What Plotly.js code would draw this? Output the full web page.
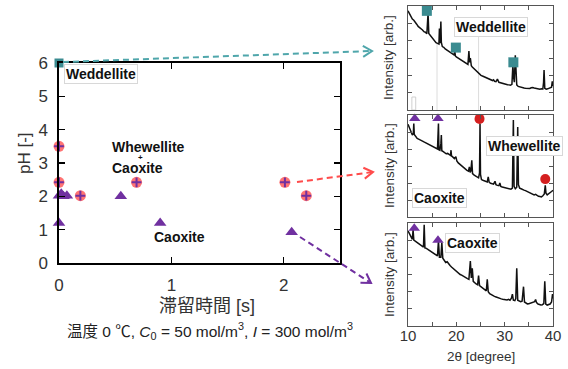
<!DOCTYPE html>
<html><head><meta charset="utf-8">
<script src="https://cdn.plot.ly/plotly-3.0.1.min.js"></script>
<style>html,body{margin:0;padding:0;background:#fff;} #chart{width:568px;height:369px;}</style>
</head><body><div id="chart"></div>
<script>
// ---- main chart data: residence time [s] vs pH ----
const weddelliteTime = [0];
const weddellitePH = [6];
const whewelliteTime = [0, 0, 0.19, 0.69, 2.01, 2.2];
const whewellitePH = [3.5, 2.42, 2.02, 2.42, 2.42, 2.02];
const caoxiteTime = [0, 0.02, 0.04, 0.07, 0.55, 0, 0.9, 2.07];
const caoxitePH = [2.02, 2.08, 2.0, 2.02, 2.0, 1.2, 1.2, 0.92];
const mainXTicks = [0, 1, 2];
const mainYTicks = [0, 1, 2, 3, 4, 5, 6];

// ---- XRD panels: [2theta, intensity (arb.)] ----
const xrdTicks = [10, 15, 20, 25, 30, 35, 40];
const xrdTickText = ['10', '', '20', '', '30', '', '40'];
const xrdYTicks = [1, 2, 3, 4, 5];

const xrdWeddellite = [
 [10.0,5.72],[10.3,5.55],[10.6,5.42],[10.9,5.25],[11.2,5.18],[11.5,5.02],[11.8,4.95],[12.1,4.82],[12.4,4.76],[12.7,4.66],
 [13.0,4.62],[13.3,4.52],[13.6,4.49],[13.9,4.40],[14.05,5.1],[14.15,5.6],[14.3,4.42],[14.6,4.30],[14.9,4.18],[15.2,4.05],
 [15.5,3.98],[15.8,3.88],[16.1,3.84],[16.4,3.80],[16.5,4.7],[16.6,3.85],[16.7,4.3],[16.8,5.1],[16.9,3.9],[17.1,3.66],
 [17.4,3.62],[17.7,3.52],[18.0,3.46],[18.3,3.43],[18.6,3.35],[18.9,3.30],[19.2,3.24],[19.5,3.18],[19.7,3.35],[19.8,3.12],
 [20.0,3.06],[20.3,3.00],[20.6,2.95],[20.9,2.90],[21.2,2.86],[21.5,2.78],[21.8,2.72],[22.1,2.68],[22.4,2.63],[22.6,3.4],
 [22.75,2.75],[22.9,3.0],[23.0,2.65],[23.1,2.55],[23.3,2.48],[23.6,2.40],[23.9,2.30],[24.2,2.20],[24.5,2.12],[24.8,2.05],
 [25.1,2.00],[25.4,1.96],[25.7,1.92],[26.0,1.88],[26.3,1.84],[26.6,1.80],[26.9,1.76],[27.2,1.72],[27.5,1.70],[27.7,1.74],
 [27.9,1.66],[28.2,1.64],[28.5,1.78],[28.8,1.60],[29.1,1.57],[29.4,1.55],[29.7,1.52],[30.0,1.50],[30.3,1.48],[30.6,1.46],
 [30.9,1.45],[31.2,1.43],[31.5,1.48],[31.7,2.6],[31.85,1.9],[32.0,1.6],[32.2,3.15],[32.35,2.2],[32.5,1.45],[32.8,1.36],
 [33.1,1.33],[33.4,1.32],[33.7,1.29],[34.0,1.27],[34.3,1.26],[34.6,1.25],[34.9,1.27],[35.2,1.24],[35.5,1.28],[35.8,1.30],
 [36.1,1.27],[36.4,1.25],[36.7,1.22],[37.0,1.24],[37.3,1.20],[37.6,1.22],[37.9,1.21],[38.05,1.6],[38.15,2.3],[38.3,1.25],
 [38.6,1.20],[38.9,1.22],[39.2,1.25],[39.5,1.27],[39.7,1.32],[39.85,1.65],[40.0,1.38]
];
const xrdWhewellite = [
 [10.0,5.45],[10.3,5.2],[10.6,5.0],[10.9,4.82],[11.1,4.9],[11.2,5.5],[11.3,4.85],[11.6,4.72],[11.9,4.62],[12.2,4.58],
 [12.5,4.52],[12.8,4.48],[13.1,4.45],[13.4,4.40],[13.7,4.36],[14.0,4.30],[14.3,4.26],[14.6,4.22],[14.9,4.18],[15.2,4.14],
 [15.5,4.10],[15.8,4.05],[16.1,4.0],[16.3,5.5],[16.4,3.95],[16.6,3.92],[16.8,4.3],[16.9,4.82],[17.0,3.9],[17.3,3.85],
 [17.6,3.80],[17.9,3.72],[18.2,3.74],[18.5,3.66],[18.8,3.62],[18.9,3.93],[19.0,3.6],[19.3,3.52],[19.6,3.44],[19.9,3.55],
 [20.1,3.30],[20.4,3.18],[20.7,3.10],[21.0,3.04],[21.3,2.98],[21.6,2.88],[21.9,2.78],[22.2,2.74],[22.5,2.70],[22.7,2.95],
 [22.85,2.62],[23.0,2.70],[23.2,3.34],[23.35,2.55],[23.7,2.46],[24.0,2.40],[24.3,2.35],[24.6,2.30],[24.8,2.60],[24.9,5.5],
 [25.0,2.5],[25.2,2.20],[25.5,2.16],[25.8,2.12],[26.1,2.10],[26.4,2.06],[26.6,2.36],[26.8,2.04],[27.1,1.98],[27.4,1.96],
 [27.7,1.93],[28.0,2.10],[28.2,1.90],[28.5,1.86],[28.8,1.84],[29.0,2.0],[29.2,1.80],[29.5,1.76],[29.8,1.74],[30.1,1.72],
 [30.4,1.69],[30.7,1.67],[31.0,1.66],[31.3,1.64],[31.6,1.70],[31.8,5.7],[31.95,1.8],[32.2,1.66],[32.5,1.75],[32.7,5.3],
 [32.85,1.9],[33.1,1.70],[33.4,1.66],[33.7,1.64],[34.0,1.58],[34.3,1.55],[34.6,1.50],[34.9,1.46],[35.2,1.42],[35.5,1.38],
 [35.8,1.35],[36.1,1.30],[36.4,1.33],[36.7,1.26],[37.0,1.22],[37.3,1.20],[37.6,1.18],[37.9,1.25],[38.2,1.35],[38.4,1.87],
 [38.55,1.4],[38.8,1.30],[39.1,1.35],[39.4,1.42],[39.7,1.50],[40.0,1.57]
];
const xrdCaoxite = [
 [10.0,5.55],[10.3,5.35],[10.6,5.2],[10.9,5.05],[11.05,5.6],[11.2,5.0],[11.5,4.95],[11.8,4.88],[12.1,4.80],[12.4,4.75],
 [12.7,4.68],[13.0,4.62],[13.2,4.6],[13.35,5.9],[13.5,4.55],[13.8,4.52],[14.1,4.46],[14.4,4.38],[14.7,4.32],[15.0,4.28],
 [15.3,4.22],[15.6,4.16],[15.9,4.12],[16.1,4.08],[16.3,4.97],[16.5,4.0],[16.8,4.0],[17.0,4.86],[17.2,3.95],[17.5,3.85],
 [17.8,3.70],[18.1,3.74],[18.4,3.6],[18.7,3.52],[19.0,3.44],[19.3,3.36],[19.6,3.28],[19.9,3.20],[20.2,3.12],[20.5,3.06],
 [20.8,3.00],[21.1,2.96],[21.4,2.90],[21.7,2.85],[22.0,2.80],[22.3,2.76],[22.6,2.72],[22.9,3.79],[23.1,2.8],[23.3,3.36],
 [23.5,2.6],[23.8,2.5],[24.1,2.45],[24.4,2.40],[24.6,2.94],[24.8,2.35],[25.1,2.28],[25.4,2.22],[25.7,2.15],[26.0,2.10],
 [26.2,2.05],[26.4,2.72],[26.6,2.0],[26.9,1.88],[27.2,1.82],[27.5,1.78],[27.8,1.74],[28.1,1.70],[28.4,1.66],[28.7,1.63],
 [29.0,1.60],[29.3,1.58],[29.6,1.56],[29.9,1.54],[30.2,1.53],[30.5,1.52],[30.8,1.55],[31.1,1.50],[31.4,1.62],[31.6,1.86],
 [31.8,1.5],[32.1,1.48],[32.3,1.6],[32.5,3.36],[32.7,1.5],[33.0,1.45],[33.3,1.42],[33.6,1.45],[33.9,2.29],[34.1,1.4],
 [34.4,1.33],[34.7,1.29],[35.0,1.30],[35.3,1.32],[35.6,1.35],[35.9,1.38],[36.2,1.42],[36.4,1.54],[36.6,1.36],[36.9,1.28],
 [37.2,1.24],[37.5,1.22],[37.8,1.24],[38.1,1.3],[38.3,2.61],[38.5,1.28],[38.8,1.22],[39.1,1.24],[39.4,1.28],[39.7,1.40],
 [39.9,1.86],[40.0,1.6]
];
// peak markers on XRD panels
const weddPeak2T = [13.9, 19.9, 31.8];
const weddPeakI = [5.72, 3.6, 2.75];
const midCaoPeak2T = [11.4, 16.2];
const midCaoPeakI = [5.8, 5.8];
const midWhewPeak2T = [24.8, 38.4];
const midWhewPeakI = [5.77, 2.23];
const botCaoPeak2T = [11.3, 16.2];
const botCaoPeakI = [5.7, 5.0];

// ---- colors / helpers ----
const TEAL = '#3a8b90', SALMON = '#ff7373', PURPLE = '#7030a0', RED = '#d41f1f';
const W = 568, H = 369;
const px = x => x / W, py = y => 1 - y / H;
const FONT = 'Liberation Sans, Arial, Noto Sans CJK JP, sans-serif';

const traces = [
  {x: whewelliteTime, y: whewellitePH, mode: 'markers', type: 'scatter', cliponaxis: false,
   marker: {symbol: 'circle', size: 11, color: SALMON}, xaxis: 'x', yaxis: 'y'},
  {x: whewelliteTime, y: whewellitePH, mode: 'markers', type: 'scatter', cliponaxis: false,
   marker: {symbol: 'cross-thin-open', size: 7, color: PURPLE, line: {color: PURPLE, width: 2}}, xaxis: 'x', yaxis: 'y'},
  {x: caoxiteTime, y: caoxitePH, mode: 'markers', type: 'scatter', cliponaxis: false,
   marker: {symbol: 'triangle-up', size: 11, color: PURPLE}, xaxis: 'x', yaxis: 'y'},
  {x: weddelliteTime, y: weddellitePH, mode: 'markers', type: 'scatter', cliponaxis: false,
   marker: {symbol: 'square', size: 9, color: TEAL}, xaxis: 'x', yaxis: 'y'},
];
function spectrum(data, ax) {
  return {x: data.map(p => p[0]), y: data.map(p => p[1]), mode: 'lines', type: 'scatter',
          line: {color: '#111', width: 1.5}, xaxis: 'x' + ax, yaxis: 'y' + ax};
}
traces.push(spectrum(xrdWeddellite, 2), spectrum(xrdWhewellite, 3), spectrum(xrdCaoxite, 4));
function peaks(x, y, ax, symbol, color, size) {
  return {x, y, mode: 'markers', type: 'scatter', cliponaxis: false,
          marker: {symbol, size, color}, xaxis: 'x' + ax, yaxis: 'y' + ax};
}
traces.push(peaks(weddPeak2T, weddPeakI, 2, 'square', TEAL, 10));
traces.push(peaks(midCaoPeak2T, midCaoPeakI, 3, 'triangle-up', PURPLE, 10));
traces.push(peaks(midWhewPeak2T, midWhewPeakI, 3, 'circle', RED, 10));
traces.push(peaks(botCaoPeak2T, botCaoPeakI, 4, 'triangle-up', PURPLE, 10));

const shapes = [];
function arrow(x0, y0, x1, y1, color) {
  const dx = x1 - x0, dy = y1 - y0, L = Math.hypot(dx, dy), ux = dx / L, uy = dy / L;
  const a = 9, w = 5.5;
  const bx = x1 - ux * a, by = y1 - uy * a;
  shapes.push({type: 'line', xref: 'paper', yref: 'paper', x0: px(x0), y0: py(y0), x1: px(x1 - ux * 2), y1: py(y1 - uy * 2),
               line: {color, width: 2, dash: '6px,4px'}});
  shapes.push({type: 'path', xref: 'paper', yref: 'paper',
               path: `M${px(bx - uy * w)},${py(by + ux * w)} L${px(x1)},${py(y1)} L${px(bx + uy * w)},${py(by - ux * w)}`,
               line: {color, width: 2}});
}
// faint guide lines in the top panel
shapes.push({type: 'line', xref: 'x2', yref: 'y2', x0: 16.0, x1: 16.0, y0: 0, y1: 3.85, line: {color: '#dcdcdc', width: 1}, layer: 'below'});
shapes.push({type: 'line', xref: 'x2', yref: 'y2', x0: 24.6, x1: 24.6, y0: 0, y1: 4.3, line: {color: '#dcdcdc', width: 1}, layer: 'below'});
shapes.push({type: 'rect', xref: 'x2', yref: 'y2', x0: 10.8, x1: 11.6, y0: 0, y1: 0.75, line: {color: '#d0d0d0', width: 1}, layer: 'below'});
arrow(63, 62, 372, 51, '#4fa6ab');
arrow(297, 182, 373, 172, '#ff4b4b');
arrow(300, 237, 371, 283, PURPLE);

const ann = [];
function txt(text, x, y, opts = {}) {
  ann.push(Object.assign({text, x: px(x), y: py(y), xref: 'paper', yref: 'paper', showarrow: false,
    xanchor: 'center', yanchor: 'middle', font: {family: FONT, size: 14, color: '#111'}}, opts));
}
const boxed = {bordercolor: '#d8d8d8', borderwidth: 1, bgcolor: '#fff', borderpad: 1};
txt('<b>Weddellite</b>', 101, 74, boxed);
txt('<b>Whewellite</b>', 110, 147, {xanchor: 'left'});
txt('<b>+</b>', 140, 157.5, {font: {family: FONT, size: 8, color: '#111'}});
txt('<b>Caoxite</b>', 110, 168, {xanchor: 'left'});
txt('<b>Caoxite</b>', 179, 237);
txt('<b>Weddellite</b>', 491, 27, boxed);
txt('<b>Whewellite</b>', 524, 146, boxed);
txt('<b>Caoxite</b>', 439, 198, boxed);
txt('<b>Caoxite</b>', 473, 243, boxed);
for (const yc of [58, 166, 275]) txt('Intensity [arb.]', 389, yc, {textangle: -90, font: {family: FONT, size: 13.5, color: '#333'}});
txt('2θ [degree]', 481, 356, {font: {family: FONT, size: 13.5, color: '#333'}});
txt('pH [-]', 25, 153, {textangle: -90, font: {family: FONT, size: 17, color: '#333'}});
txt('滞留時間 [s]', 207, 306, {font: {family: FONT, size: 18, color: '#333'}});
txt('温度 0 ℃, <i>C</i><sub>0</sub> = 50 mol/m<sup>3</sup>, <i>I</i> = 300 mol/m<sup>3</sup>', 210, 331,
    {font: {family: FONT, size: 15.5, color: '#222'}});

const baseAxis = {showgrid: false, zeroline: false, showline: true, mirror: 'ticks', ticks: 'inside', fixedrange: true};
const mainAxisStyle = Object.assign({}, baseAxis, {linecolor: '#000', linewidth: 1.6, ticklen: 6, tickcolor: '#000', tickwidth: 1.2,
  tickfont: {family: FONT, size: 17, color: '#333'}, ticklabelstandoff: 6});
const xrdAxisStyle = Object.assign({}, baseAxis, {linecolor: '#555', linewidth: 1, ticklen: 4, tickcolor: '#555', tickwidth: 1,
  tickfont: {family: FONT, size: 15, color: '#333'}});

const layout = {
  width: W, height: H, margin: {l: 0, r: 0, t: 0, b: 0}, showlegend: false,
  paper_bgcolor: '#fff', plot_bgcolor: 'rgba(0,0,0,0)',
  xaxis: Object.assign({}, mainAxisStyle, {domain: [px(59), px(340)], range: [0, 2.5], tickvals: mainXTicks, anchor: 'y'}),
  yaxis: Object.assign({}, mainAxisStyle, {domain: [py(263), py(63)], range: [0, 6], tickvals: mainYTicks, anchor: 'x'}),
  xaxis2: Object.assign({}, xrdAxisStyle, {domain: [px(408), px(553)], range: [10, 40], tickvals: xrdTicks, showticklabels: false, anchor: 'y2'}),
  yaxis2: Object.assign({}, xrdAxisStyle, {domain: [py(110), py(6)], range: [0, 6], tickvals: xrdYTicks, showticklabels: false, anchor: 'x2'}),
  xaxis3: Object.assign({}, xrdAxisStyle, {domain: [px(408), px(553)], range: [10, 40], tickvals: xrdTicks, showticklabels: false, anchor: 'y3'}),
  yaxis3: Object.assign({}, xrdAxisStyle, {domain: [py(217), py(115)], range: [0, 6], tickvals: xrdYTicks, showticklabels: false, anchor: 'x3'}),
  xaxis4: Object.assign({}, xrdAxisStyle, {domain: [px(408), px(553)], range: [10, 40], tickvals: xrdTicks, ticktext: xrdTickText, anchor: 'y4', ticklabelstandoff: -4}),
  yaxis4: Object.assign({}, xrdAxisStyle, {domain: [py(326), py(223)], range: [0, 6], tickvals: xrdYTicks, showticklabels: false, anchor: 'x4'}),
  shapes, annotations: ann
};
Plotly.newPlot('chart', traces, layout, {staticPlot: true, displayModeBar: false});
</script></body></html>
